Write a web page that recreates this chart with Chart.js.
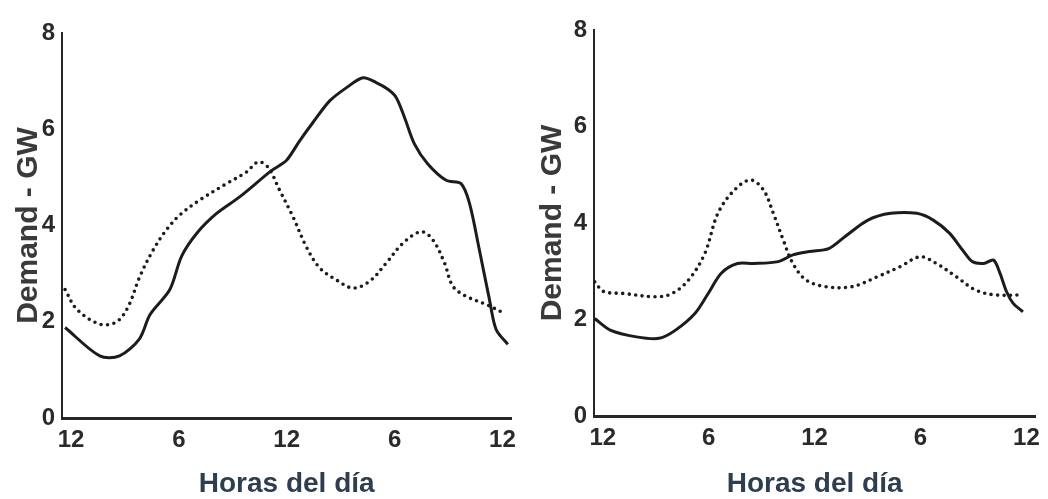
<!DOCTYPE html>
<html>
<head>
<meta charset="utf-8">
<script src="https://cdn.jsdelivr.net/npm/chart.js@4/dist/chart.umd.min.js"></script>
<style>
  html, body { margin: 0; padding: 0; background: #fff; }
  .wrap { display: flex; width: 1048px; height: 499px; }
  canvas { display: block; }
</style>
</head>
<body>
<div class="wrap">
  <canvas id="left" width="524" height="499"></canvas>
  <canvas id="right" width="524" height="499"></canvas>
</div>
<script>
// Hours of the day (0 = midnight) and the tick labels shown under the axis
const hourTicks = [0, 6, 12, 18, 24];
const hourLabels = ['12', '6', '12', '6', '12'];
const demandTicks = [0, 2, 4, 6, 8];

// Left panel, solid curve
const leftSolidHours = [-0.33, 1.6, 2.7, 3.8, 4.4, 5.5, 6.15, 7.0, 8.1, 9.4, 11.15, 11.98, 12.72, 13.46, 14.39, 15.31, 16.24, 16.98, 17.63, 18.09, 18.56, 19.11, 19.85, 20.87, 21.7, 22.17, 22.72, 23.28, 23.65, 24.3];
const leftSolidGW    = [1.88, 1.29, 1.29, 1.64, 2.15, 2.67, 3.36, 3.84, 4.25, 4.6, 5.14, 5.35, 5.76, 6.14, 6.59, 6.86, 7.07, 6.97, 6.83, 6.66, 6.24, 5.69, 5.28, 4.94, 4.87, 4.46, 3.49, 2.46, 1.84, 1.53];

// Left panel, dotted curve
const leftDotHours = [-0.33, 0.32, 1.61, 2.54, 3.19, 3.83, 4.57, 5.31, 6.06, 7.17, 8.65, 9.76, 10.41, 10.96, 11.61, 12.35, 13.09, 13.83, 14.76, 15.69, 16.61, 17.54, 18.46, 19.48, 20.13, 20.78, 21.24, 21.98, 23.09, 24.02];
const leftDotGW    = [2.67, 2.26, 1.95, 2.0, 2.32, 2.94, 3.49, 3.91, 4.22, 4.53, 4.87, 5.11, 5.32, 5.21, 4.73, 4.18, 3.56, 3.12, 2.87, 2.7, 2.84, 3.22, 3.63, 3.87, 3.7, 3.22, 2.74, 2.53, 2.36, 2.19];

// Right panel, solid curve
const rightSolidHours = [-0.46, 0.42, 1.9, 3.2, 4.12, 5.23, 5.97, 6.71, 7.63, 8.55, 9.94, 10.77, 11.7, 12.8, 13.73, 15.02, 16.31, 17.79, 18.72, 19.64, 20.38, 20.93, 21.58, 22.14, 22.5, 22.87, 23.24, 23.8];
const rightSolidGW    = [2.02, 1.78, 1.64, 1.61, 1.78, 2.13, 2.54, 2.96, 3.16, 3.16, 3.2, 3.34, 3.41, 3.47, 3.72, 4.06, 4.2, 4.2, 4.06, 3.79, 3.44, 3.2, 3.16, 3.23, 2.96, 2.58, 2.34, 2.16];

// Right panel, dotted curve
const rightDotHours = [-0.46, 0.05, 1.16, 3.01, 3.93, 4.86, 5.78, 6.52, 7.45, 8.37, 9.11, 9.66, 10.22, 10.77, 11.51, 12.62, 14.1, 15.58, 16.87, 17.98, 18.9, 20.01, 21.12, 22.23, 23.8];
const rightDotGW    = [2.78, 2.58, 2.54, 2.47, 2.54, 2.82, 3.37, 4.2, 4.68, 4.89, 4.68, 4.2, 3.65, 3.16, 2.82, 2.68, 2.68, 2.89, 3.1, 3.3, 3.16, 2.89, 2.61, 2.51, 2.51];

const pairs = (xs, ys) => xs.map((x, i) => ({x: x, y: ys[i]}));

function makeChart(id, solid, dotted, axisLeft, areaTop, areaBottom) {
  const ctx = document.getElementById(id).getContext('2d');
  return new Chart(ctx, {
    type: 'line',
    data: {
      datasets: [
        {
          data: solid,
          borderColor: '#1c1c1c',
          borderWidth: 3,
          pointRadius: 0,
          tension: 0.3
        },
        {
          data: dotted,
          borderColor: '#1c1c1c',
          borderWidth: 3.6,
          borderDash: [0, 6.5],
          borderCapStyle: 'round',
          pointRadius: 0,
          tension: 0.35
        }
      ]
    },
    options: {
      responsive: false,
      animation: false,
      events: [],
      layout: { padding: { left: 0, right: 12, top: areaTop, bottom: 0 } },
      plugins: { legend: { display: false }, tooltip: { enabled: false } },
      scales: {
        x: {
          type: 'linear',
          min: -0.5,
          max: 24.5,
          grid: { display: false, drawTicks: false },
          border: { display: true, color: '#262626', width: 3 },
          afterFit: (scale) => { scale.height = 499 - areaBottom; },
          afterBuildTicks: (scale) => { scale.ticks = hourTicks.map(v => ({value: v})); },
          ticks: {
            padding: 8,
            color: '#2a2a2a',
            font: { family: 'Liberation Sans', size: 24, weight: 'bold' },
            maxRotation: 0,
            callback: (v) => hourLabels[hourTicks.indexOf(v)]
          },
          title: {
            display: true,
            text: 'Horas del día',
            color: '#2e3e4e',
            padding: { top: 0, bottom: 1 },
            font: { family: 'Liberation Sans', size: 28, weight: 'bold', lineHeight: 1.0 }
          }
        },
        y: {
          min: 0,
          max: 8,
          grid: { display: false, drawTicks: false },
          border: { display: true, color: '#262626', width: 2 },
          afterFit: (scale) => { scale.width = axisLeft; },
          afterBuildTicks: (scale) => { scale.ticks = demandTicks.map(v => ({value: v})); },
          ticks: {
            padding: 7,
            color: '#2a2a2a',
            font: { family: 'Liberation Sans', size: 24, weight: 'bold' }
          },
          title: {
            display: true,
            text: 'Demand - GW',
            color: '#3a3a3a',
            padding: { top: 11, bottom: 0 },
            font: { family: 'Liberation Sans', size: 30, weight: 'bold', lineHeight: 1.2 }
          }
        }
      }
    }
  });
}

makeChart('left', pairs(leftSolidHours, leftSolidGW), pairs(leftDotHours, leftDotGW), 62, 33, 418);
makeChart('right', pairs(rightSolidHours, rightSolidGW), pairs(rightDotHours, rightDotGW), 70, 30, 416);
</script>
</body>
</html>
